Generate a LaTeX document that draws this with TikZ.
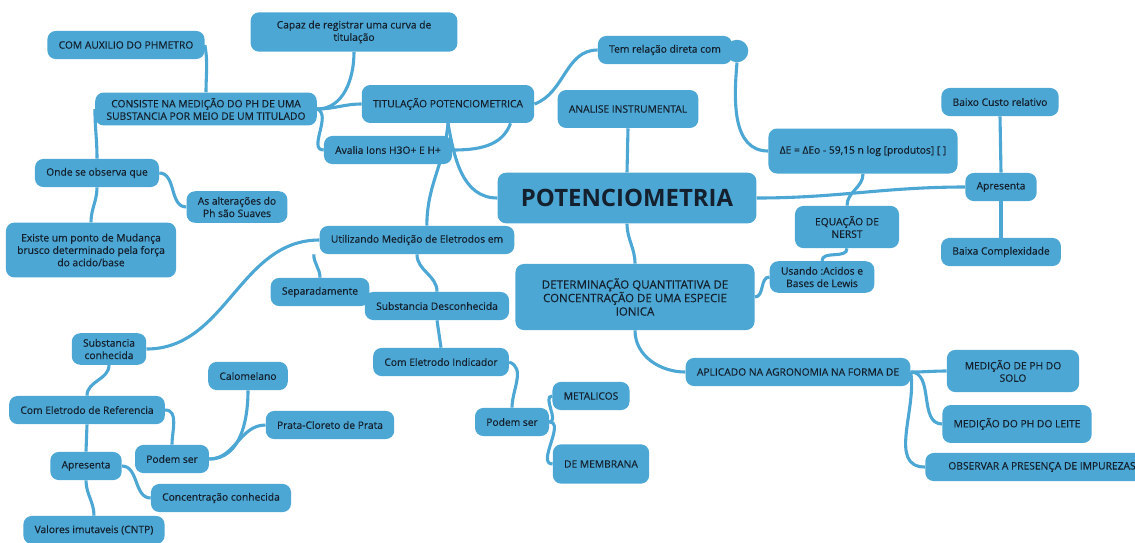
\documentclass[tikz,border=0pt]{standalone}
\usepackage{fontspec}
\setmainfont{Open Sans}
\newfontfamily\mapfont{Open Sans}[FakeBold=0.35]
\usetikzlibrary{backgrounds}
\definecolor{mapblue}{RGB}{76,167,212}
\definecolor{maptext}{RGB}{20,32,45}

\begin{document}
\begin{tikzpicture}[x=0.025cm, y=-0.025cm,
    topic/.style={fill=mapblue, rounded corners=6pt, text=maptext, align=center,
      font=\mapfont\fontsize{7.3}{8.8}\selectfont, inner xsep=8pt, inner ysep=4pt, minimum height=20pt},
    central/.style={topic, font=\fontsize{17}{20}\selectfont\bfseries, minimum width=184pt, minimum height=36pt},
    link/.style={draw=mapblue, line width=2.2pt}]
                \useasboundingbox (0,0) rectangle (1135,542);

                \node[central] (potencio) at (627,198) {POTENCIOMETRIA};

                \node[topic] (auxilio) at (126,45) {COM AUXILIO DO PHMETRO};
                \node[topic, minimum width=147pt, minimum height=28pt] (capaz) at (354,32) {Capaz de registrar uma curva de\\titulação};
                \node[topic] (consiste) at (206,109) {CONSISTE NA MEDIÇÃO DO PH DE UMA\\SUBSTANCIA POR MEIO DE UM TITULADO};
                \node[topic, minimum width=111pt, minimum height=27pt] (titul) at (448,104) {TITULAÇÃO POTENCIOMETRICA};
                \node[topic] (avalia) at (388,150) {Avalia Ions H3O+ E H+};
                \node[topic] (temrel) at (665,50) {Tem relação direta com};
                \node[circle, fill=mapblue, minimum size=16pt, inner sep=0pt] (dot) at (737,51) {};
                \node[topic, minimum width=90pt, minimum height=27pt] (analise) at (628,109) {ANALISE INSTRUMENTAL};
                \node[topic, minimum width=125pt, minimum height=32pt] (nernsteq) at (863,151) {ΔE = ΔEo - 59,15 n log [produtos] [ ]};
                \node[topic] (custo) at (1000,102) {Baixo Custo relativo};
                \node[topic] (apresR) at (1001,187) {Apresenta};
                \node[topic, minimum width=74pt, minimum height=30pt] (nerst) at (847,227) {EQUAÇÃO DE\\NERST};
                \node[topic] (complex) at (1001,252) {Baixa Complexidade};
                \node[topic] (lewis) at (822,277) {Usando :Acidos e\\Bases de Lewis};
                \node[topic, font=\mapfont\fontsize{8.2}{9.6}\selectfont, minimum width=170pt, minimum height=47pt] (determ) at (635,297) {DETERMINAÇÃO QUANTITATIVA DE\\CONCENTRAÇÃO DE UMA ESPECIE\\IONICA};
                \node[topic] (utiliz) at (417,240) {Utilizando Medição de Eletrodos em};
                \node[topic] (separ) at (320,292) {Separadamente};
                \node[topic] (desconh) at (437,306) {Substancia Desconhecida};
                \node[topic] (onde) at (97,173) {Onde se observa que};
                \node[topic] (alter) at (237,207) {As alterações do\\Ph são Suaves};
                \node[topic, minimum width=117pt, minimum height=39pt] (existe) at (91,250) {Existe um ponto de Mudança\\brusco determinado pela força\\do acido/base};
                \node[topic] (conhec) at (109,349) {Substancia\\conhecida};
                \node[topic] (indic) at (441,362) {Com Eletrodo Indicador};
                \node[topic] (aplic) at (798,372) {APLICADO NA AGRONOMIA NA FORMA DE};
                \node[topic, minimum width=94pt, minimum height=30pt] (solo) at (1013,371) {MEDIÇÃO DE PH DO\\SOLO};
                \node[topic] (calom) at (248,376) {Calomelano};
                \node[topic] (refer) at (87,410) {Com Eletrodo de Referencia};
                \node[topic] (prata) at (330,425) {Prata-Cloreto de Prata};
                \node[topic] (metal) at (591,396) {METALICOS};
                \node[topic] (podemR) at (512,422) {Podem ser};
                \node[topic, minimum width=93pt, minimum height=27pt] (leite) at (1017,424) {MEDIÇÃO DO PH DO LEITE};
                \node[topic] (podemL) at (172,459) {Podem ser};
                \node[topic] (apresL) at (86,466) {Apresenta};
                \node[topic, minimum width=59pt, minimum height=28pt] (membr) at (601,464) {DE MEMBRANA};
                \node[topic, minimum width=166pt] (impur) at (1042,467) {OBSERVAR A PRESENÇA DE IMPUREZAS};
                \node[topic] (concent) at (221,498) {Concentração conhecida};
                \node[topic] (valores) at (94,530) {Valores imutaveis (CNTP)};

                \begin{scope}[on background layer]
                \draw[link] (auxilio.east) to[out=-80, in=90] (consiste.north);
                \draw[link] (capaz.south) to[out=-90, in=0] (consiste.east);
                \draw[link] (consiste.east) to[out=0, in=180] (titul.west);
                \draw[link] (consiste.east) to[out=-20, in=180] (avalia.west);
                \draw[link] (avalia.east) to[out=0, in=-110] ([xshift=-17pt]titul.south east);
                \draw[link] (titul.south) to[out=-95, in=90] ([xshift=7pt]utiliz.north);
                \draw[link] (titul.south) to[out=-80, in=180] (potencio.west);
                \draw[link] (titul.east) to[out=20, in=180] (temrel.west);
                \draw[link] (dot.south) to[out=-95, in=180] (nernsteq.west);
                \draw[link] (analise.south) to (potencio.north);
                \draw[link] (nernsteq.south) to[out=-90, in=90] (nerst.north);
                \draw[link] (custo.south) to (apresR.north);
                \draw[link] (apresR.south) to (complex.north);
                \draw[link] (potencio.east) to[out=0, in=180] (apresR.west);
                \draw[link] (nerst.south) to[out=-90, in=90] (lewis.north);
                \draw[link] (lewis.west) to[out=180, in=0] (determ.east);
                \draw[link] (potencio.south) to[out=-90, in=90] (determ.north);
                \draw[link] (determ.south) to[out=-90, in=180] (aplic.west);
                \draw[link] (aplic.east) to[out=0, in=180] (solo.west);
                \draw[link] (aplic.east) to[out=0, in=180] (leite.west);
                \draw[link] (aplic.east) to[out=-80, in=180] (impur.west);
                \draw[link] (utiliz.west) to[out=180, in=0] (conhec.east);
                \draw[link] ([xshift=-4pt]utiliz.south west) to[out=-90, in=90] (separ.north);
                \draw[link] (utiliz.south) to[out=-90, in=90] (desconh.north);
                \draw[link] (desconh.south) to (indic.north);
                \draw[link] (indic.east) to[out=-20, in=90] (podemR.north);
                \draw[link] (podemR.east) to[out=0, in=180] (metal.west);
                \draw[link] (podemR.east) to[out=0, in=180] (membr.west);
                \draw[link] (conhec.south) to[out=-90, in=90] (refer.north);
                \draw[link] (refer.east) to[out=0, in=90] (podemL.north);
                \draw[link] (podemL.east) to[out=0, in=-90] (calom.south);
                \draw[link] (podemL.east) to[out=0, in=180] (prata.west);
                \draw[link] (refer.south) to (apresL.north);
                \draw[link] (apresL.east) to[out=0, in=180] (concent.west);
                \draw[link] (apresL.south) to[out=-90, in=90] (valores.north);
                \draw[link] (consiste.west) to[out=-90, in=90] (onde.north);
                \draw[link] (onde.east) to[out=0, in=180] (alter.west);
                \draw[link] (onde.south) to[out=-90, in=90] (existe.north);
                \end{scope}
            \end{tikzpicture}
\end{document}
